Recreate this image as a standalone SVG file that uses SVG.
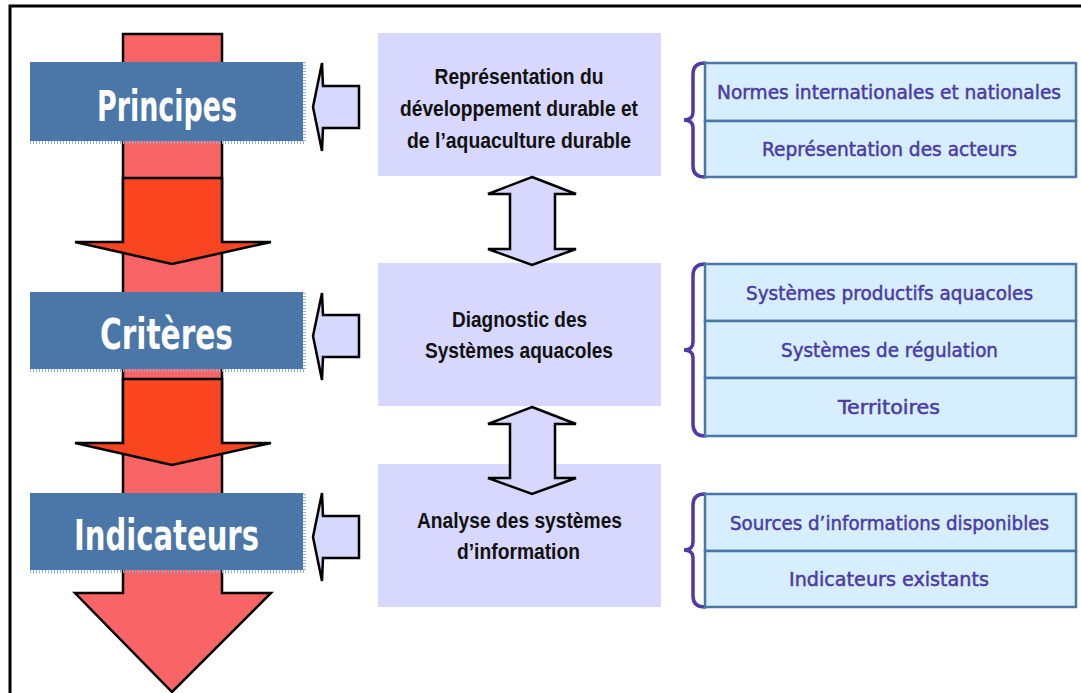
<svg xmlns="http://www.w3.org/2000/svg" width="1081" height="693" viewBox="0 0 1081 693">
<style>
.frame{fill:none;stroke:#000;}
.pink{fill:#F96566;stroke:#000;stroke-width:2.5;stroke-linejoin:miter;}
.orange{fill:#F94520;stroke:#000;stroke-width:2.5;}
.lvl{fill:#4A77A7;}
.fringe{fill:none;stroke:#8DB0D8;stroke-width:3;stroke-dasharray:1 2;}
.lvltxt{font-family:"DejaVu Sans",sans-serif;font-weight:bold;font-size:42px;fill:#fff;text-anchor:middle;}
.mid{fill:#D8D7FD;}
.midtxt{font-family:"Liberation Sans",Arial,sans-serif;font-weight:bold;font-size:21.5px;fill:#111;text-anchor:middle;}
.arr{fill:#D8D7FD;stroke:#000;stroke-width:2.5;stroke-linejoin:miter;}
.cell{fill:#D7EEFE;stroke:#4A77A7;stroke-width:2.5;}
.celltxt{font-family:"DejaVu Sans",sans-serif;font-size:19.5px;fill:#4B3BA6;stroke:#4B3BA6;stroke-width:0.5;text-anchor:middle;}
.brace{fill:none;stroke:#4E3CA2;stroke-width:3.5;stroke-linecap:round;}
</style>
<rect width="1081" height="693" fill="#fff"/>
<path class="frame" d="M1081,6 L10,6 L10,693" stroke-width="3"/>

<g id="main-arrow">
<polygon class="pink" points="123,34 222,34 222,593 271,593 172,692 75,593 123,593"/>
<polygon class="orange" points="123,178 222,178 222,242 271,242 172,264 75,242 123,242"/>
<polygon class="orange" points="123,379 222,379 222,443 271,443 172,465 75,443 123,443"/>
</g>

<g id="principes">
<rect class="lvl" x="30" y="62" width="273" height="79"/>
<path class="fringe" d="M30,142.5 H304.5 V62"/>
<text class="lvltxt" x="167" y="121" textLength="140" lengthAdjust="spacingAndGlyphs">Principes</text>
</g>
<g id="criteres">
<rect class="lvl" x="30" y="292" width="273" height="77"/>
<path class="fringe" d="M30,370.5 H304.5 V292"/>
<text class="lvltxt" x="166.5" y="349" textLength="133" lengthAdjust="spacingAndGlyphs">Critères</text>
</g>
<g id="indicateurs">
<rect class="lvl" x="30" y="493" width="273" height="77"/>
<path class="fringe" d="M30,571.5 H304.5 V493"/>
<text class="lvltxt" x="166.5" y="550" textLength="185" lengthAdjust="spacingAndGlyphs">Indicateurs</text>
</g>

<g id="box-representation">
<rect class="mid" x="378" y="33" width="283" height="143"/>
<text class="midtxt" x="519" y="84" textLength="169" lengthAdjust="spacingAndGlyphs">Représentation du</text>
<text class="midtxt" x="519" y="116" textLength="238" lengthAdjust="spacingAndGlyphs">développement durable et</text>
<text class="midtxt" x="519" y="148" textLength="224" lengthAdjust="spacingAndGlyphs">de l’aquaculture durable</text>
</g>
<g id="box-diagnostic">
<rect class="mid" x="378" y="263" width="283" height="143"/>
<text class="midtxt" x="519.5" y="327" textLength="135" lengthAdjust="spacingAndGlyphs">Diagnostic des</text>
<text class="midtxt" x="519" y="358" textLength="188" lengthAdjust="spacingAndGlyphs">Systèmes aquacoles</text>
</g>
<g id="box-analyse">
<rect class="mid" x="378" y="464" width="283" height="143"/>
<text class="midtxt" x="519.5" y="528" textLength="205" lengthAdjust="spacingAndGlyphs">Analyse des systèmes</text>
<text class="midtxt" x="518.5" y="559" textLength="123" lengthAdjust="spacingAndGlyphs">d’information</text>
</g>

<g id="connectors">
<polygon class="arr" points="359,86 323,86 322,63 313,107 322,151 323,128 359,128"/>
<polygon class="arr" points="359,315 323,315 322,293 313,336 322,380 323,357 359,357"/>
<polygon class="arr" points="359,516 323,516 322,493 313,537 322,581 323,558 359,558"/>
<polygon class="arr" points="532,177 576,194 555,194 555,249 576,249 532,265 488,249 510,249 510,194 488,194"/>
<polygon class="arr" points="532,407 576,424 555,424 555,478 576,478 532,494 488,478 510,478 510,424 488,424"/>
</g>

<g id="group-normes">
<path class="brace" d="M705,63 Q693,63 693,74 L693,112 Q693,120 684,120 Q693,120 693,128 L693,166 Q693,177 705,177"/>
<rect class="cell" x="705" y="63" width="371" height="58"/>
<rect class="cell" x="705" y="121" width="371" height="56"/>
<text class="celltxt" x="889" y="99" textLength="344" lengthAdjust="spacingAndGlyphs">Normes internationales et nationales</text>
<text class="celltxt" x="889.5" y="156" textLength="255" lengthAdjust="spacingAndGlyphs">Représentation des acteurs</text>
</g>
<g id="group-systemes">
<path class="brace" d="M705,264 Q693,264 693,276 L693,342 Q693,350 684,350 Q693,350 693,358 L693,424 Q693,436 705,436"/>
<rect class="cell" x="705" y="264" width="371" height="57"/>
<rect class="cell" x="705" y="321" width="371" height="57"/>
<rect class="cell" x="705" y="378" width="371" height="58"/>
<text class="celltxt" x="889.5" y="300" textLength="287" lengthAdjust="spacingAndGlyphs">Systèmes productifs aquacoles</text>
<text class="celltxt" x="889.5" y="357" textLength="217" lengthAdjust="spacingAndGlyphs">Systèmes de régulation</text>
<text class="celltxt" x="889" y="414" textLength="102" lengthAdjust="spacingAndGlyphs">Territoires</text>
</g>
<g id="group-sources">
<path class="brace" d="M705,494 Q693,494 693,505 L693,542 Q693,550 684,550 Q693,550 693,558 L693,596 Q693,607 705,607"/>
<rect class="cell" x="705" y="494" width="371" height="57"/>
<rect class="cell" x="705" y="551" width="371" height="56"/>
<text class="celltxt" x="889.5" y="530" textLength="319" lengthAdjust="spacingAndGlyphs">Sources d’informations disponibles</text>
<text class="celltxt" x="889" y="586" textLength="200" lengthAdjust="spacingAndGlyphs">Indicateurs existants</text>
</g>
</svg>
